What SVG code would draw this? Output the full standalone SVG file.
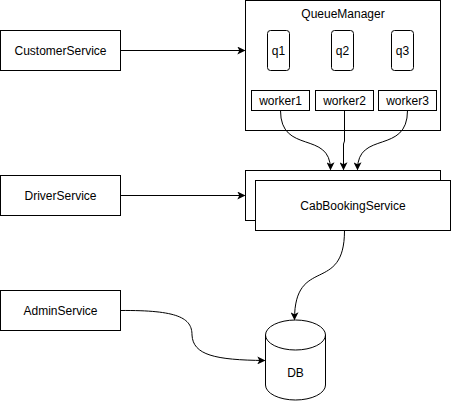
<svg xmlns="http://www.w3.org/2000/svg" width="451" height="401" viewBox="0 0 451 401">
<defs>
<style>
.box{fill:#fff;stroke:#000;stroke-width:1}
.t{font-family:"Liberation Sans",Arial,sans-serif;font-size:12px;fill:#000;text-anchor:middle;dominant-baseline:central}
.e{fill:none;stroke:#000;stroke-width:1}
</style>
<marker id="arr" viewBox="0 0 10 10" refX="9" refY="5" markerWidth="8" markerHeight="8" markerUnits="userSpaceOnUse" orient="auto">
<path d="M0,0 L10,5 L0,10 L2.5,5 Z" fill="#000"/>
</marker>
</defs>
<rect width="451" height="401" fill="#fff"/>
<g id="CustomerService"><rect class="box" x="0.5" y="30.5" width="120" height="40"/><text class="t" x="60.5" y="50.5">CustomerService</text></g>
<g id="DriverService"><rect class="box" x="0.5" y="175.5" width="120" height="40"/><text class="t" x="60.5" y="195.5">DriverService</text></g>
<g id="AdminService"><rect class="box" x="0.5" y="290.5" width="120" height="40"/><text class="t" x="60.5" y="310.5">AdminService</text></g>
<g id="QueueManager">
<rect class="box" x="245.5" y="0.5" width="195" height="130"/>
<text class="t" x="343" y="14">QueueManager</text>
<g id="q1"><rect class="box" x="267.5" y="30.5" width="22" height="40" rx="3"/><text class="t" x="278.5" y="50.5">q1</text></g>
<g id="q2"><rect class="box" x="331.5" y="30.5" width="22" height="40" rx="3"/><text class="t" x="342.5" y="50.5">q2</text></g>
<g id="q3"><rect class="box" x="391.5" y="30.5" width="22" height="40" rx="3"/><text class="t" x="402.5" y="50.5">q3</text></g>
<g id="worker1"><rect class="box" x="251.5" y="90.5" width="58" height="20"/><text class="t" x="280.5" y="100.5">worker1</text></g>
<g id="worker2"><rect class="box" x="315.5" y="90.5" width="58" height="20"/><text class="t" x="344.5" y="100.5">worker2</text></g>
<g id="worker3"><rect class="box" x="378.5" y="90.5" width="58" height="20"/><text class="t" x="407.5" y="100.5">worker3</text></g>
</g>
<g id="CabBookingService">
<rect class="box" x="245.5" y="170.5" width="195" height="50"/>
<rect class="box" x="255.5" y="180.5" width="195" height="50"/>
<text class="t" x="353" y="205.5">CabBookingService</text>
</g>
<g id="DB">
<path class="box" d="M265.5,335 A30,15 0 0 1 325.5,335 L325.5,385 A30,15 0 0 1 265.5,385 Z"/>
<path class="e" d="M265.5,335 A30,15 0 0 0 325.5,335"/>
<text class="t" x="295.5" y="373">DB</text>
</g>
<g id="connectors">
<path class="e" d="M120.5,50.5 L244.5,50.5" marker-end="url(#arr)"/>
<path class="e" d="M120.5,195.5 L244.5,195.5" marker-end="url(#arr)"/>
<path class="e" d="M280.5,110.5 C280.5,155 330.5,130 330.5,169.5" marker-end="url(#arr)"/>
<path class="e" d="M344.5,110.5 L344.5,141 L343.5,144 L343.5,169.5" marker-end="url(#arr)"/>
<path class="e" d="M407.5,110.5 C407.5,155 357.5,130 357.5,169.5" marker-end="url(#arr)"/>
<path class="e" d="M344.5,230.5 C344.5,295 294.5,255 294.5,319.5" marker-end="url(#arr)"/>
<path class="e" d="M120.5,310.5 C178,310 192,318 192,335 C193,355 215,360 264.5,360.5" marker-end="url(#arr)"/>
</g>
</svg>
